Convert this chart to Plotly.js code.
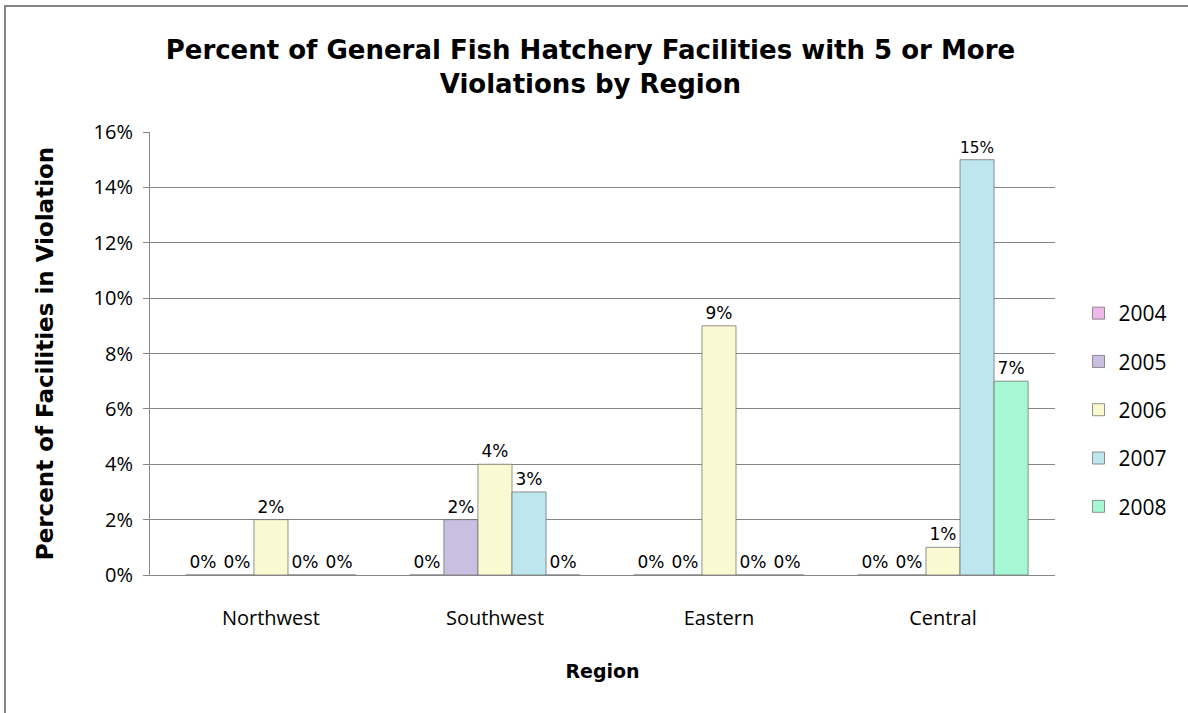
<!DOCTYPE html>
<html>
<head>
<meta charset="utf-8">
<script src="https://cdn.plot.ly/plotly-3.0.1.min.js"></script>
<style>
  html, body { margin: 0; padding: 0; background: #fff; }
  #wrap { position: relative; width: 1188px; height: 713px; overflow: hidden; }
  #chart { position: absolute; left: 0; top: 0; width: 1188px; height: 713px; }
  .bl { position: absolute; left: 4px; top: 5px; width: 2px; height: 708px; background: #868686; }
  .bt { position: absolute; left: 4px; top: 5px; width: 1184px; height: 2px; background: #868686; }
</style>
</head>
<body>
<div id="wrap">
  <div id="chart"></div>
  <div class="bl"></div>
  <div class="bt"></div>
</div>
<script>
const regions = ["Northwest", "Southwest", "Eastern", "Central"];
const years = ["2004", "2005", "2006", "2007", "2008"];
const v2004 = [0, 0, 0, 0];
const v2005 = [0, 0.02, 0, 0];
const v2006 = [0.02, 0.04, 0.09, 0.01];
const v2007 = [0, 0.03, 0, 0.15];
const v2008 = [0, 0, 0, 0.07];
const seriesValues = [v2004, v2005, v2006, v2007, v2008];
const colors = ["#EDB8EA", "#C9BFE0", "#FAFAD2", "#BDE6EF", "#A6F7D4"];

const boldFont = "DejaVu Sans, Liberation Sans, Arial, sans-serif";
const lightFont = "Open Sans, Lato, sans-serif";

const traces = years.map((yr, i) => ({
  type: "bar",
  name: yr,
  x: regions,
  y: seriesValues[i],
  legendgroup: yr,
  marker: { color: colors[i], line: { color: "rgba(110,110,110,0.75)", width: 1 } },
  texttemplate: "%{y:.0%}",
  textposition: "outside",
  textfont: { family: boldFont, size: 17, color: "#000" },
  cliponaxis: false,
  hoverinfo: "x+y+name"
}));

const layout = {
  width: 1188, height: 713,
  paper_bgcolor: "#fff", plot_bgcolor: "#fff",
  margin: { l: 150, r: 133, t: 132, b: 138 },
  barmode: "group",
  bargap: 0.24,
  bargroupgap: 0,
  title: {
    text: "Percent of General Fish Hatchery Facilities with 5 or More<br>Violations by Region",
    font: { family: boldFont, size: 26, color: "#000", weight: "bold" },
    x: 0.497, xanchor: "center", y: 0.917, yanchor: "middle"
  },
  xaxis: {
    range: [-0.54, 3.5],
    showline: true, linecolor: "#868686", linewidth: 1,
    ticks: "", showgrid: false, zeroline: false,
    tickfont: { family: lightFont, size: 20, color: "#000" },
    ticklabelstandoff: 25,
    title: { text: "Region", font: { family: boldFont, size: 19, color: "#000", weight: "bold" }, standoff: 34 }
  },
  yaxis: {
    range: [0, 0.16], dtick: 0.02, tickformat: ".0%",
    showline: true, linecolor: "#868686", linewidth: 1,
    ticks: "outside", ticklen: 6, tickcolor: "#868686",
    showgrid: true, gridcolor: "#868686", gridwidth: 1, zeroline: false,
    tickfont: { family: lightFont, size: 20, color: "#000" },
    ticklabelstandoff: 6,
    title: { text: "Percent of Facilities in Violation", font: { family: boldFont, size: 23, color: "#000", weight: "bold" }, standoff: 33 }
  },
  legend: {
    x: 1.026, xanchor: "left", y: 0.3725, yanchor: "middle",
    font: { family: lightFont, size: 21, color: "#000" },
    traceorder: "grouped", tracegroupgap: 18,
    itemwidth: 30
  },
  showlegend: true
};

Plotly.newPlot("chart", traces, layout, { displayModeBar: false, staticPlot: true });
</script>
</body>
</html>
